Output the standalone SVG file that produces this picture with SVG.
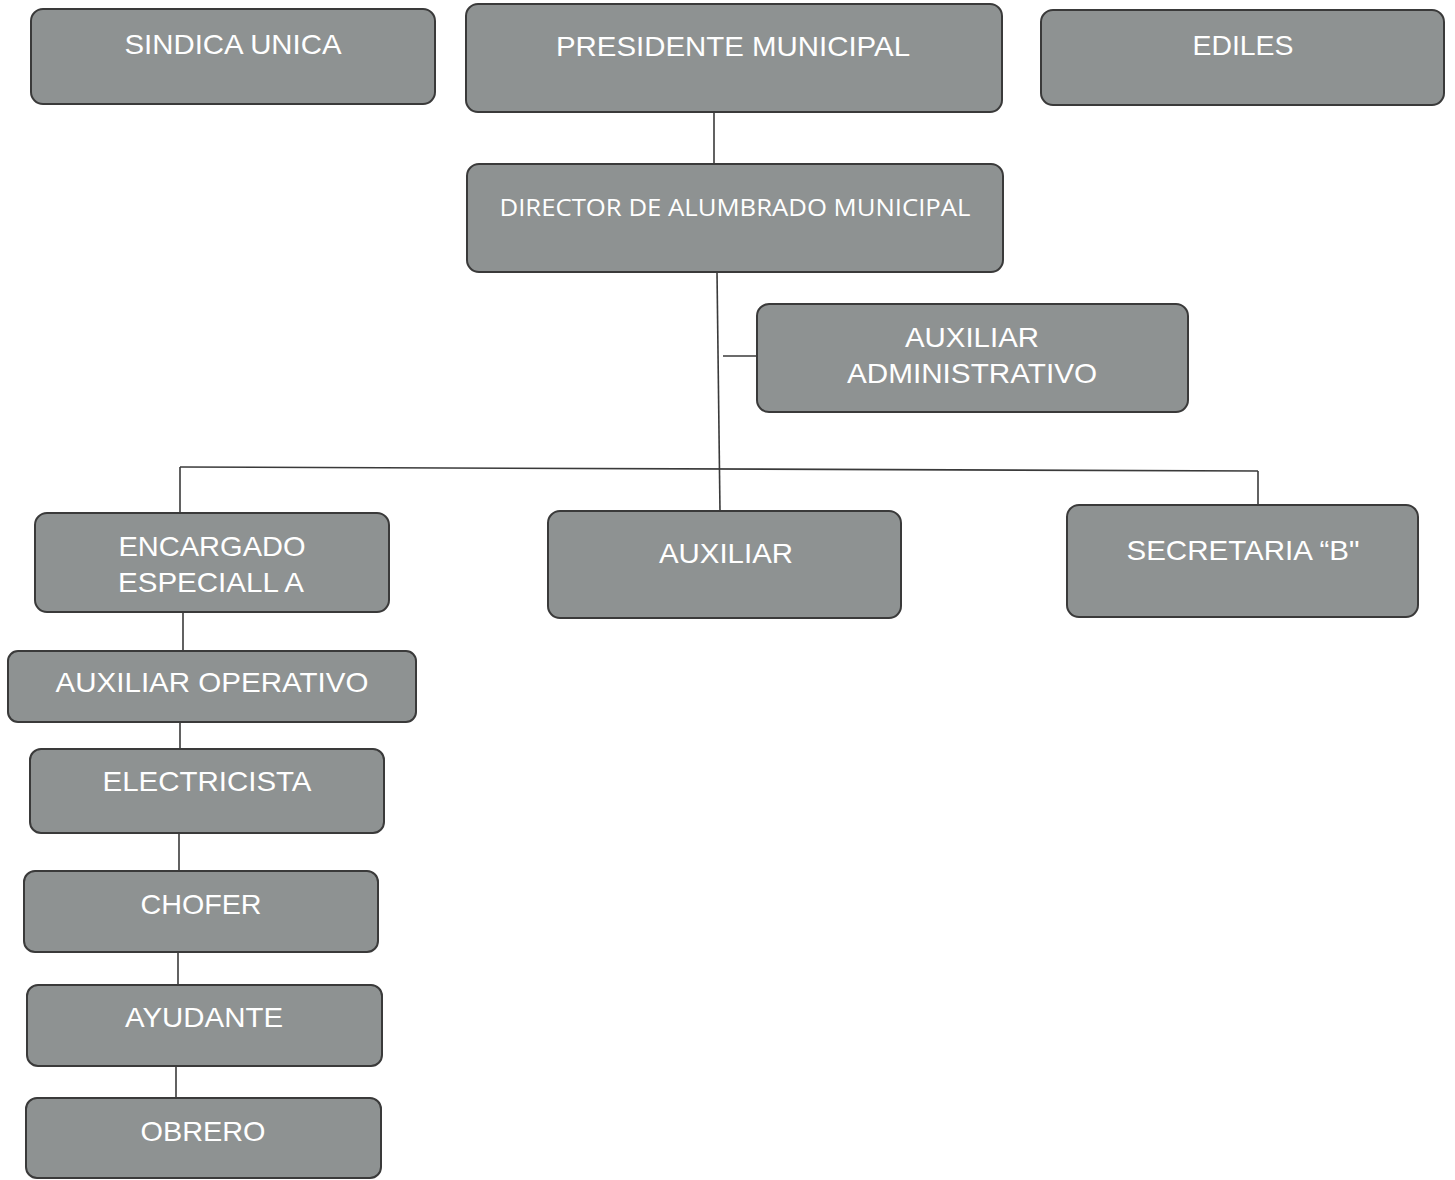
<svg xmlns="http://www.w3.org/2000/svg" width="1455" height="1180" viewBox="0 0 1455 1180">
<defs>
<style>
.box{fill:#8e9292;stroke:#3a3a3a;stroke-width:2}
.t{font-family:"Liberation Sans",Arial,sans-serif;font-size:28px;fill:#ffffff;text-anchor:middle}
.c{font-family:"Open Sans","Noto Sans",sans-serif;font-size:24px;fill:#ffffff;text-anchor:middle}
.ln{stroke:#3a3a3a;stroke-width:1.6;fill:none}
</style>
</defs>
<rect width="1455" height="1180" fill="#ffffff"/>
<g id="connectors">
<line class="ln" x1="714" y1="112" x2="714" y2="164"/>
<line class="ln" x1="717" y1="272" x2="720" y2="511"/>
<line class="ln" x1="723" y1="356" x2="760" y2="356"/>
<line class="ln" x1="180" y1="467" x2="1258" y2="471"/>
<line class="ln" x1="180" y1="467" x2="180" y2="513"/>
<line class="ln" x1="1258" y1="471" x2="1258" y2="505"/>
<line class="ln" x1="183" y1="612" x2="183" y2="651"/>
<line class="ln" x1="180" y1="722" x2="180" y2="749"/>
<line class="ln" x1="179" y1="833" x2="179" y2="871"/>
<line class="ln" x1="178" y1="952" x2="178" y2="985"/>
<line class="ln" x1="176" y1="1066" x2="176" y2="1098"/>
</g>
<g id="sindica">
<rect class="box" x="31" y="9" width="404" height="95" rx="12"/>
<text class="t" x="233" y="54" textLength="217" lengthAdjust="spacingAndGlyphs">SINDICA UNICA</text>
</g>
<g id="presidente">
<rect class="box" x="466" y="4" width="536" height="108" rx="12"/>
<text class="t" x="733" y="56" textLength="354" lengthAdjust="spacingAndGlyphs">PRESIDENTE MUNICIPAL</text>
</g>
<g id="ediles">
<rect class="box" x="1041" y="10" width="403" height="95" rx="12"/>
<text class="t" x="1243" y="55" textLength="101" lengthAdjust="spacingAndGlyphs">EDILES</text>
</g>
<g id="director">
<rect class="box" x="467" y="164" width="536" height="108" rx="12"/>
<text class="c" x="735" y="216" textLength="471" lengthAdjust="spacingAndGlyphs">DIRECTOR DE ALUMBRADO MUNICIPAL</text>
</g>
<g id="aux-admin">
<rect class="box" x="757" y="304" width="431" height="108" rx="12"/>
<text class="t" x="972" y="347" textLength="134" lengthAdjust="spacingAndGlyphs">AUXILIAR</text>
<text class="t" x="972" y="383" textLength="250" lengthAdjust="spacingAndGlyphs">ADMINISTRATIVO</text>
</g>
<g id="encargado">
<rect class="box" x="35" y="513" width="354" height="99" rx="12"/>
<text class="t" x="212" y="556" textLength="187" lengthAdjust="spacingAndGlyphs">ENCARGADO</text>
<text class="t" x="211" y="592" textLength="186" lengthAdjust="spacingAndGlyphs">ESPECIALL A</text>
</g>
<g id="auxiliar">
<rect class="box" x="548" y="511" width="353" height="107" rx="12"/>
<text class="t" x="726" y="563" textLength="134" lengthAdjust="spacingAndGlyphs">AUXILIAR</text>
</g>
<g id="secretaria">
<rect class="box" x="1067" y="505" width="351" height="112" rx="12"/>
<text class="t" x="1243" y="560" textLength="233" lengthAdjust="spacingAndGlyphs">SECRETARIA “B"</text>
</g>
<g id="aux-operativo">
<rect class="box" x="8" y="651" width="408" height="71" rx="10"/>
<text class="t" x="212" y="692" textLength="313" lengthAdjust="spacingAndGlyphs">AUXILIAR OPERATIVO</text>
</g>
<g id="electricista">
<rect class="box" x="30" y="749" width="354" height="84" rx="11"/>
<text class="t" x="207" y="791" textLength="209" lengthAdjust="spacingAndGlyphs">ELECTRICISTA</text>
</g>
<g id="chofer">
<rect class="box" x="24" y="871" width="354" height="81" rx="11"/>
<text class="t" x="201" y="914" textLength="121" lengthAdjust="spacingAndGlyphs">CHOFER</text>
</g>
<g id="ayudante">
<rect class="box" x="27" y="985" width="355" height="81" rx="11"/>
<text class="t" x="204" y="1027" textLength="158" lengthAdjust="spacingAndGlyphs">AYUDANTE</text>
</g>
<g id="obrero">
<rect class="box" x="26" y="1098" width="355" height="80" rx="11"/>
<text class="t" x="203" y="1141" textLength="125" lengthAdjust="spacingAndGlyphs">OBRERO</text>
</g>
</svg>
